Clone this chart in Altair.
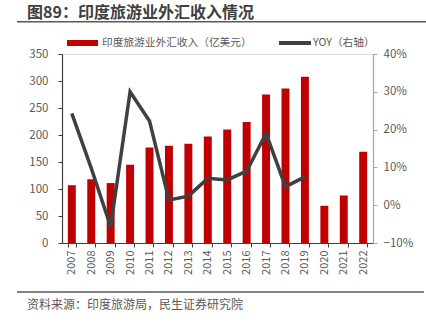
import altair as alt
import pandas as pd

years = [str(y) for y in range(2007, 2023)]
revenue = [107, 118, 111, 145, 177, 180, 184, 197, 210, 224, 275, 286, 308, 69, 88, 169]
yoy_years = [str(y) for y in range(2007, 2020)]
yoy = [0.243, 0.098, -0.057, 0.300, 0.223, 0.014, 0.024, 0.071, 0.067, 0.090, 0.190, 0.049, 0.075]

title_text = "图89：印度旅游业外汇收入情况"
legend_bar = "印度旅游业外汇收入（亿美元）"
legend_line = "YOY（右轴）"
source_text = "资料来源：印度旅游局，民生证券研究院"

FONT = "Noto Sans CJK SC"
LABEL = "#595959"
W, H = 311, 189

bar_df = pd.DataFrame({"year": years, "rev": revenue})
line_df = pd.DataFrame({"year": yoy_years, "yoy": yoy})

xenc = alt.X("year:N", title=None,
             scale=alt.Scale(paddingInner=0.59, paddingOuter=0.3),
             axis=alt.Axis(labelAngle=270, labelFont=FONT, labelFontSize=11,
                           labelColor=LABEL, domainColor="#404040", tickColor="#404040",
                           tickBand="extent", tickSize=4, labelPadding=3,
                           domainWidth=1.2))

bars = alt.Chart(bar_df).mark_bar(color="#C00000").encode(
    x=xenc,
    y=alt.Y("rev:Q", title=None,
            scale=alt.Scale(domain=[0, 350], nice=False),
            axis=alt.Axis(values=list(range(0, 351, 50)), orient="left",
                          labelFont=FONT, labelFontSize=11.5, labelColor=LABEL,
                          domainColor="#404040", tickColor="#404040", tickSize=4,
                          labelPadding=10, grid=False, domainWidth=1.2))
)

line = alt.Chart(line_df).mark_line(color="#404040", strokeWidth=3.5).encode(
    x=alt.X("year:N"),
    y=alt.Y("yoy:Q", title=None,
            scale=alt.Scale(domain=[-0.1, 0.4], nice=False),
            axis=alt.Axis(values=[-0.1, 0, 0.1, 0.2, 0.3, 0.4], format=".0%",
                          orient="right", labelFont=FONT, labelFontSize=11.5,
                          labelColor=LABEL, domainColor="#A6A6A6", tickColor="#A6A6A6",
                          tickSize=4, labelPadding=6, grid=False, domainWidth=1.2))
)


def text_layer(t, x, y, size, color, weight="normal"):
    return alt.Chart(pd.DataFrame({"t": [t]})).mark_text(
        font=FONT, fontSize=size, color=color, fontWeight=weight,
        align="left", baseline="middle"
    ).encode(text="t:N", x=alt.value(x), y=alt.value(y))


def rule_layer(x1, x2, y, color, width):
    return alt.Chart(pd.DataFrame({"a": [0]})).mark_rule(
        color=color, strokeWidth=width
    ).encode(x=alt.value(x1), x2=alt.value(x2), y=alt.value(y))


title = text_layer(title_text, -35, -41, 16, "#404040", "bold")
title_rule = rule_layer(-45, 364, -32.3, "#595959", 1.5)
leg1_sw = rule_layer(5, 36, -11, "#C00000", 6)
leg1_tx = text_layer(legend_bar, 40, -11, 10.7, LABEL)
leg2_sw = rule_layer(217, 249, -11, "#404040", 4)
leg2_tx = text_layer(legend_line, 251, -11, 10.7, LABEL)
foot_rule = rule_layer(-45, 362, 238, "#595959", 1.5)
foot_tx = text_layer(source_text, -35, 250.5, 12, LABEL)

chart = alt.layer(
    bars, line, title, title_rule, leg1_sw, leg1_tx, leg2_sw, leg2_tx, foot_rule, foot_tx
).resolve_scale(y="independent").properties(
    width=W, height=H,
    autosize=alt.AutoSizeParams(type="none"),
    padding={"left": 62, "top": 54, "right": 53, "bottom": 88},
).configure_view(stroke=None).configure(background="white")

chart.save("out.html", embed_options={"renderer": "svg", "actions": False})
